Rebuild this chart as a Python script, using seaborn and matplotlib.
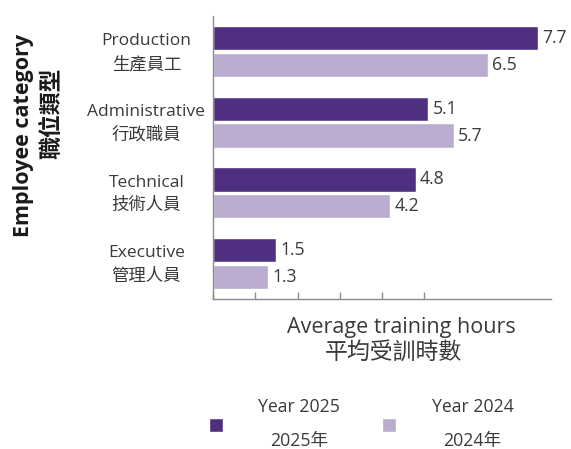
import numpy as np
import pandas as pd
import matplotlib.pyplot as plt
import matplotlib.transforms as mtransforms
import seaborn as sns
from matplotlib.patches import Patch

# data
categories_en = ["Production", "Administrative", "Technical", "Executive"]
categories_zh = ["生產員工", "行政職員", "技術人員", "管理人員"]
years = ["Year 2025", "Year 2024"]
years_zh = ["2025年", "2024年"]
hours_2025 = [7.7, 5.1, 4.8, 1.5]
hours_2024 = [6.5, 5.7, 4.2, 1.3]

labels = [f"{en}\n{zh}" for en, zh in zip(categories_en, categories_zh)]
df = pd.DataFrame({
    "Category": labels * 2,
    "Year": [years[0]] * len(labels) + [years[1]] * len(labels),
    "Hours": hours_2025 + hours_2024,
})

sns.set_theme(style="white")
plt.rcParams["font.family"] = ["Open Sans", "Noto Sans CJK TC"]

text_color = "#3a3a3a"
axis_color = "#8c8c8c"
palette = {years[0]: "#4F3080", years[1]: "#BAACCE"}

W, H = 571, 449
fig = plt.figure(figsize=(W / 100, H / 100), dpi=100)
ax = fig.add_axes([213 / W, 1 - 299 / H, 338 / W, 283 / H])

sns.barplot(
    data=df, y="Category", x="Hours", hue="Year",
    palette=palette, orient="h", width=0.76, gap=0.1,
    saturation=1, legend=False, ax=ax
)

for c in ax.containers:
    ax.bar_label(c, fmt="%.1f", padding=3, fontsize=12.7, color=text_color)

ax.set_xlim(0, 8)
ax.set_ylim(3.5, -0.5)
ax.set_xlabel("")
ax.set_ylabel("")

ax.set_xticks(np.arange(0, 6))
ax.set_xticklabels([])
ax.tick_params(axis="x", bottom=True, direction="in", length=5, width=1, color=axis_color)
ax.tick_params(axis="y", left=False, length=0, pad=48)
shift_up = mtransforms.ScaledTranslation(0, 3 / 72, fig.dpi_scale_trans)
for t in ax.get_yticklabels():
    t.set_ha("center")
    t.set_multialignment("center")
    t.set_linespacing(1.6)
    t.set_fontsize(12.5)
    t.set_color(text_color)
    t.set_transform(t.get_transform() + shift_up)

for s in ["top", "right"]:
    ax.spines[s].set_visible(False)
for s in ["left", "bottom"]:
    ax.spines[s].set_color(axis_color)
    ax.spines[s].set_linewidth(1)

# axis titles
fig.text(24 / W, 1 - 135 / H, "Employee category", rotation=90, ha="center", va="center",
         fontsize=15.5, fontweight="bold", color="#1a1a1a")
fig.text(52 / W, 1 - 113 / H, "職位類型", rotation=90, ha="center", va="center",
         fontsize=16.5, fontweight="bold", color="#1a1a1a")
fig.text(401 / W, 1 - 328 / H, "Average training hours", ha="center", va="center",
         fontsize=15.5, color=text_color)
fig.text(393 / W, 1 - 353 / H, "平均受訓時數", ha="center", va="center",
         fontsize=16.5, color=text_color)

# legend
handles = [Patch(facecolor=palette[y]) for y in years]
leg_labels = [f"{y}\n{z}" for y, z in zip(years, years_zh)]
leg = fig.legend(
    handles, leg_labels, ncol=2, loc="center",
    bbox_to_anchor=(361 / W, 1 - 424 / H), frameon=False,
    fontsize=12.7, handlelength=0.8, handleheight=0.8,
    handletextpad=2.0, columnspacing=2.4
)
for t in leg.get_texts():
    t.set_multialignment("center")
    t.set_linespacing(2.1)
    t.set_color(text_color)

fig.savefig("out.png", dpi=100)
